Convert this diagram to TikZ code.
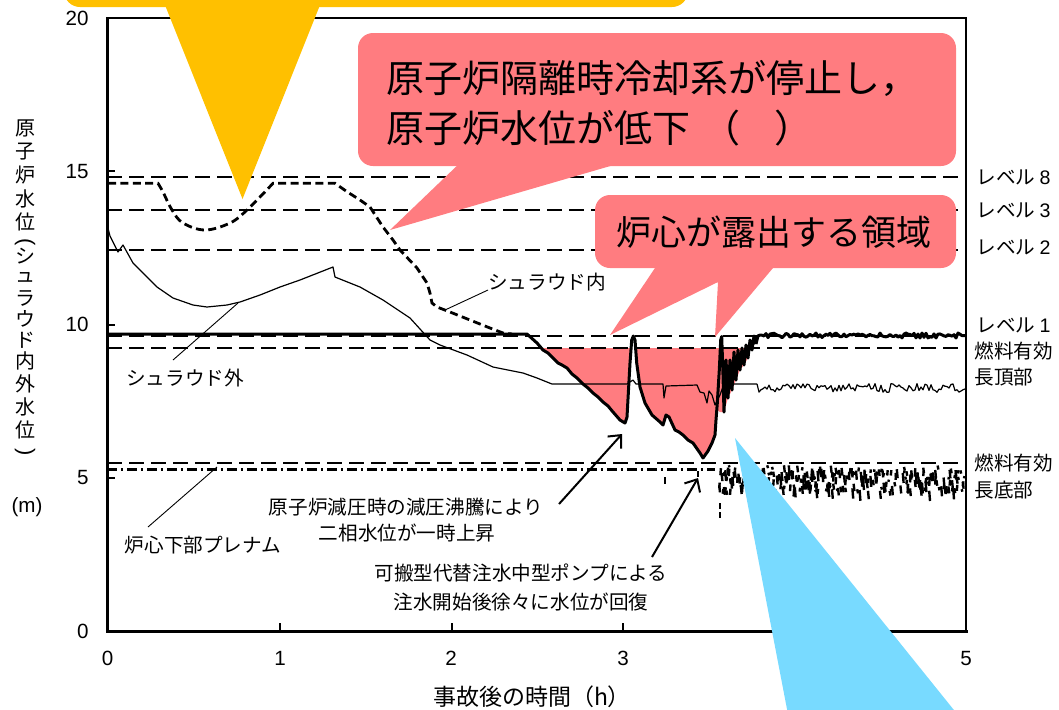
\documentclass[tikz,border=0pt]{standalone}
\usepackage{fontspec}
\setmainfont{Liberation Sans}
\newfontfamily\jp{Noto Sans CJK JP}
\usetikzlibrary{arrows.meta}
\definecolor{calred}{RGB}{255,124,128}
\definecolor{calyellow}{RGB}{255,192,0}
\definecolor{calblue}{RGB}{120,218,255}
\tikzset{
  frameA/.style={line width=1.5pt, line cap=rect},
  frameB/.style={line width=0.8pt},
  tickline/.style={line width=1pt},
  levelline/.style={line width=0.9pt, dash pattern=on 7.5pt off 3.5pt},
  innercurve/.style={line width=1.4pt, dash pattern=on 4pt off 2.2pt},
  outercurve/.style={line width=0.6pt, line join=round},
  twophase/.style={line width=1.5pt, line join=round},
  plenum/.style={line width=1.1pt, dash pattern=on 5pt off 2pt on 1pt off 2pt},
  noisemark/.style={line width=1.2pt},
  leader/.style={line width=0.45pt},
  callarrow/.style={line width=1pt, -{Straight Barb[length=5pt,width=9pt,line width=1pt]}},
  ticklab/.style={inner sep=0pt, font=\fontsize{10.3pt}{12pt}\selectfont},
  lab/.style={inner sep=0pt, font=\jp\fontsize{9.8pt}{12pt}\selectfont},
  ylab/.style={inner sep=0pt, font=\jp\fontsize{10pt}{11pt}\selectfont},
  yparen/.style={inner sep=0pt, rotate=-90, font=\fontsize{11pt}{12pt}\selectfont},
  xlab/.style={inner sep=0pt, font=\jp\fontsize{11.5pt}{13pt}\selectfont},
  biglab/.style={inner sep=0pt, font=\jp\fontsize{19pt}{22pt}\selectfont},
  midlab/.style={inner sep=0pt, font=\jp\fontsize{17.5pt}{20pt}\selectfont},
}
\begin{document}
\begin{tikzpicture}[x=0.5pt,y=-0.5pt]
\useasboundingbox (0,0) rectangle (1059,709);
\clip (0,0) rectangle (1059,709);

% ---- core exposed region (red fill)
\begin{scope}
\clip (100,348) rectangle (970,640);
\fill[calred] (527,334) -- (537,343) -- (543,350) -- (553,358) -- (558,363) -- (567,368)
 -- (577,378) -- (583,384) -- (593,393) -- (603,402) -- (613,412) -- (620,420) -- (625,423)
 -- (627,417) -- (628.5,390) -- (630,363) -- (631.7,340) -- (633.3,336) -- (635,340)
 -- (636.7,363) -- (640,387) -- (645,403) -- (652,415) -- (660,422) -- (663,425) -- (666,415)
 -- (669,417) -- (675,430) -- (683,435) -- (693,443) -- (700,453) -- (703,458) -- (708,451)
 -- (712,443) -- (715,435) -- (717,410) -- (720,412) -- (724,412) -- (728,398) -- (732,390)
 -- (736,380) -- (740,370) -- (744,365) -- (748,358) -- (750,348) -- (750,330) -- (527,330) -- cycle;
\end{scope}

% ---- reference levels
\draw[levelline] (107,176.7) -- (966,176.7);
\draw[levelline] (107,210) -- (966,210);
\draw[levelline] (107,250) -- (966,250);
\draw[levelline] (107,336) -- (966,336);
\draw[levelline] (107,348) -- (966,348);
\draw[levelline] (107,462.7) -- (966,462.7);
\draw[plenum] (107,469.5) -- (715,469.5);

% ---- shroud outside level (thin)
\draw[outercurve] (108,228) -- (110,236) -- (118,252) -- (123,245) -- (133,263) -- (147,277)
 -- (157,287) -- (173,298) -- (193,305) -- (207,307) -- (227,305) -- (240,302) -- (260,295)
 -- (280,287) -- (300,280) -- (333,267) -- (335,277) -- (350,283) -- (360,287) -- (383,300)
 -- (410,318) -- (430,340) -- (440,345) -- (467,355) -- (493,367) -- (523,373) -- (537,378)
 -- (552,384) -- (627,384) -- (630,382) -- (633,380) -- (636,384) -- (663,384) -- (664,398)
 -- (666,386) -- (697,385) -- (700,392) -- (704,393) -- (707,403) -- (709,391) -- (712,395)
 -- (715,405) -- (720,395) -- (724,384) -- (757,384);
\pgfmathsetseed{11}
\draw[outercurve] (757,384) \foreach \xx in {759,761,...,965} { -- (\xx,{388+9*(rnd-0.5)}) };

% ---- two-phase level inside shroud (thick)
\draw[twophase] (107,334) -- (527,334) -- (537,343) -- (543,350) -- (548,353) -- (553,358)
 -- (558,363) -- (562,365) -- (567,368) -- (572,374) -- (577,378) -- (583,384) -- (588,388)
 -- (593,393) -- (598,397) -- (603,402) -- (608,406) -- (613,412) -- (620,420) -- (625,423)
 -- (627,417) -- (628.5,390) -- (630,363) -- (631.7,340) -- (633.3,336) -- (635,340)
 -- (636.7,363) -- (640,387) -- (645,403) -- (652,415) -- (660,422) -- (663,425) -- (666,415)
 -- (669,417) -- (675,430) -- (679,432) -- (683,435) -- (688,440) -- (693,443) -- (700,453)
 -- (703,458) -- (708,451) -- (712,443) -- (715,435) -- (716,420) -- (717.3,403) -- (719.3,370)
 -- (720.7,340) -- (721.7,336.5) -- (723,375) -- (724,412) -- (726,360) -- (728,398) -- (730,360)
 -- (732,390) -- (734,352) -- (736,380) -- (738,350) -- (740,370) -- (742,348) -- (744,365)
 -- (746,345) -- (748,358) -- (750,340) -- (752,350) -- (754,336) -- (756,344);
\draw[twophase] (756,344) \foreach \xx in {758,760,...,966} { -- (\xx,{335.5+5*(rnd-0.5)}) };

% ---- shroud inside level (thick dashed)
\draw[innercurve] (108,183.3) -- plot[smooth, tension=0.6] coordinates {(158,183.3) (163,192) (172,210) (183,223) (205,230) (230,223) (247,210) (273,183.3)}
 -- (335,183.3) -- (347,191.7) -- (360,200) -- (370,207) -- (383,227) -- (393,240) -- (400,250)
 -- (417,268) -- (427,283) -- (430,293) -- (432,303) -- (437,307) -- (450,312) -- (470,320)
 -- (490,328) -- (503,333) -- (512,334);

% ---- scattered lower plenum signal
\foreach \xx in {718,719.2,...,965} {
  \pgfmathsetmacro\ya{465+26*rnd}
  \pgfmathsetmacro\yb{\ya+2+9*rnd}
  \pgfmathsetmacro\pp{rnd}
  \ifdim\pp pt<0.75pt \draw[noisemark] (\xx,\ya) -- (\xx+0.8,\yb); \fi
  \pgfmathsetmacro\yc{467+22*rnd}
  \pgfmathsetmacro\yd{\yc+2+7*rnd}
  \pgfmathsetmacro\qq{rnd}
  \ifdim\qq pt<0.5pt \draw[noisemark] (\xx+0.5,\yc) -- (\xx,\yd); \fi
}
\draw[noisemark] (665,477) -- (665,484);
\draw[noisemark] (698,471) -- (698,477);
\draw[noisemark] (720,503) -- (720,509);
\draw[noisemark] (720,512) -- (720,518);

% ---- frame and ticks
\draw[frameB] (107,18) -- (966,18) -- (966,631);
\draw[frameA] (107,18) -- (107,631) -- (966,631);
\foreach \yy in {171.25,324.5,477.75} \draw[tickline] (107,\yy) -- (115,\yy);
\foreach \xx in {279.8,451.6,623.4,795.2} \draw[tickline] (\xx,631) -- (\xx,623);

% ---- tick labels
\node[ticklab, anchor=east] (t20) at (89,18) {20};
\node[ticklab, anchor=east] (t15) at (89,171.25) {15};
\node[ticklab, anchor=east] (t10) at (89,324.5) {10};
\node[ticklab, anchor=east] (t5) at (89,477.75) {5};
\node[ticklab, anchor=east] (t0) at (89,631) {0};
\node[ticklab] (x0) at (107.5,658) {0};
\node[ticklab] (x1) at (280,658) {1};
\node[ticklab] (x2) at (451,658) {2};
\node[ticklab] (x3) at (623,658) {3};
\node[ticklab] (x5) at (966,658) {5};

% ---- axis titles
\node[xlab] (xt) at (532,697) {事故後の時間（h）};
\foreach \ch/\yy [count=\i] in {原/128,子/151.5,炉/175,水/198.5,位/222,シ/256,ュ/277,ラ/298,ウ/319,ド/340,内/361,外/384,水/407,位/430}
  \node[ylab] (yl\i) at (25,\yy) {\ch};
\node[yparen] (ylp1) at (25,242) {(};
\node[yparen] (ylp2) at (25,452) {)};
\node[ticklab] (unit) at (27,507) {(m)};

% ---- right-hand level labels
\node[lab, anchor=west] (l8) at (976,177) {レベル {\rmfamily 8}};
\node[lab, anchor=west] (l3) at (976,210) {レベル {\rmfamily 3}};
\node[lab, anchor=west] (l2) at (976,247) {レベル {\rmfamily 2}};
\node[lab, anchor=west] (l1) at (976,325) {レベル {\rmfamily 1}};
\node[lab, anchor=west] (taf1) at (974,351) {燃料有効};
\node[lab, anchor=west] (taf2) at (974,377) {長頂部};
\node[lab, anchor=west] (baf1) at (974,463) {燃料有効};
\node[lab, anchor=west] (baf2) at (974,490) {長底部};

% ---- curve labels with leaders
\node[lab] (lin) at (547,282) {シュラウド内};
\coordinate (linA) at (488,290); \coordinate (linB) at (445,310);
\draw[leader] (linA) -- (linB);
\node[lab] (lout) at (185,378) {シュラウド外};
\coordinate (loutA) at (173,360); \coordinate (loutB) at (238,303);
\draw[leader] (loutA) -- (loutB);
\node[lab] (lpl) at (203,545) {炉心下部プレナム};
\coordinate (lplA) at (148,527); \coordinate (lplB) at (217,467);
\draw[leader] (lplA) -- (lplB);

% ---- annotations with arrows
\node[lab] (n1a) at (406,507) {原子炉減圧時の減圧沸騰により};
\node[lab] (n1b) at (407,533) {二相水位が一時上昇};
\coordinate (a1s) at (559,504); \coordinate (a1e) at (622,434);
\draw[callarrow] (a1s) -- (a1e);
\node[lab] (n2a) at (521,573) {可搬型代替注水中型ポンプによる};
\node[lab] (n2b) at (521,602) {注水開始後徐々に水位が回復};
\coordinate (a2s) at (652,557); \coordinate (a2e) at (698,478);
\draw[callarrow] (a2s) -- (a2e);

% ---- callouts
\fill[calyellow, rounded corners=8pt] (64,-60) rectangle (688,7);
\fill[calyellow] (161,-5) -- (242.5,199) -- (324,-5) -- cycle;

\fill[calred, rounded corners=7.5pt] (358,33) rectangle (956,166);
\fill[calred] (463,160) -- (390,230) -- (631,160) -- cycle;
\node[biglab, anchor=west] (c1a) at (386,78) {原子炉隔離時冷却系が停止し，};
\node[biglab, anchor=west] (c1b) at (386,128) {原子炉水位が低下\hspace{6pt}（\hspace{-2pt}　）};

\fill[calred, rounded corners=7.5pt] (595,195) rectangle (956,268);
\fill[calred] (659,262) -- (610,335) -- (718,282) -- (715,337) -- (778,262) -- cycle;
\node[midlab] (c2) at (774,232) {炉心が露出する領域};

\fill[calblue] (735,438) -- (791,730) -- (970,730) -- cycle;
\end{tikzpicture}
\end{document}
